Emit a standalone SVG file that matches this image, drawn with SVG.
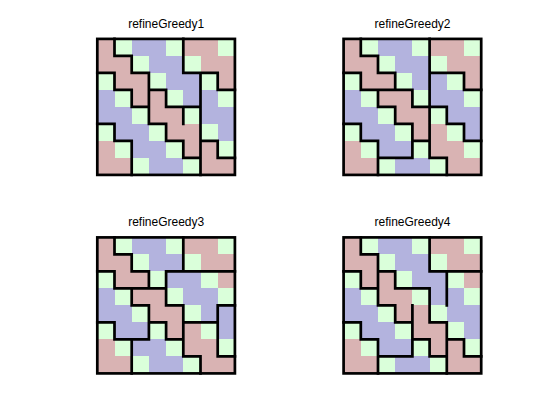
<svg xmlns="http://www.w3.org/2000/svg" xmlns:xlink="http://www.w3.org/1999/xlink" width="560" height="420" viewBox="0 0 560 420">
<style>
.t{font-family:"Liberation Sans",Arial,sans-serif;font-size:12px;fill:#000;text-anchor:middle}
.p{fill:#D9B3B3}.b{fill:#B3B3DE}.g{fill:#DAFFDA}
.e{fill:none;stroke:#000;stroke-width:0.158;stroke-linecap:square;stroke-linejoin:miter}
</style>
<defs>
<g id="cells" shape-rendering="crispEdges">
<rect class="g" x="0" y="0" width="8" height="8"/>
<rect class="p" x="0" y="0" width="1" height="1"/><rect class="b" x="2" y="0" width="2" height="1"/><rect class="p" x="5" y="0" width="2" height="1"/>
<rect class="p" x="0" y="1" width="2" height="1"/><rect class="b" x="3" y="1" width="2" height="1"/><rect class="p" x="6" y="1" width="2" height="1"/>
<rect class="p" x="1" y="2" width="2" height="1"/><rect class="b" x="4" y="2" width="2" height="1"/><rect class="p" x="7" y="2" width="1" height="1"/>
<rect class="b" x="0" y="3" width="1" height="1"/><rect class="p" x="2" y="3" width="2" height="1"/><rect class="b" x="5" y="3" width="2" height="1"/>
<rect class="b" x="0" y="4" width="2" height="1"/><rect class="p" x="3" y="4" width="2" height="1"/><rect class="b" x="6" y="4" width="2" height="1"/>
<rect class="b" x="1" y="5" width="2" height="1"/><rect class="p" x="4" y="5" width="2" height="1"/><rect class="b" x="7" y="5" width="1" height="1"/>
<rect class="p" x="0" y="6" width="1" height="1"/><rect class="b" x="2" y="6" width="2" height="1"/><rect class="p" x="5" y="6" width="2" height="1"/>
<rect class="p" x="0" y="7" width="2" height="1"/><rect class="b" x="3" y="7" width="2" height="1"/><rect class="p" x="6" y="7" width="2" height="1"/>
</g>
</defs>
<rect width="560" height="420" fill="#fff"/>
<g id="panel1">
<text class="t" x="166.2" y="27.5">refineGreedy1</text>
<g transform="translate(97.3,38.9) scale(17.2,17)">
<use xlink:href="#cells"/>
<path class="e" d="M1,0V1H2V2H3V4 M3,3H4V4H6 M5,0V2H6V4 M6,2H7V3H8 M0,2H1V3H2V4H3V5H4V6H5V7H6V8 M5,4V5 M6,4V8 M6,6H7V7H8 M0,5H1V6H2V8"/>
<rect class="e" x="0" y="0" width="8" height="8"/>
</g>
</g>
<g id="panel2">
<text class="t" x="412.5" y="27.5">refineGreedy2</text>
<g transform="translate(343.6,38.9) scale(17.2,17)">
<use xlink:href="#cells"/>
<path class="e" d="M1,0V1H2V2H3V3 M0,2H1V3H4V4H5 M5,0V7 M5,2H7V3H8 M2,3V4H3V5H4V6H5 M4,6V7H2 M2,6V8 M0,5H1V6H2 M5,7H6V8 M5,4H6V5H7V6H8"/>
<rect class="e" x="0" y="0" width="8" height="8"/>
</g>
</g>
<g id="panel3">
<text class="t" x="166.2" y="226">refineGreedy3</text>
<g transform="translate(97.3,237.4) scale(17.2,17)">
<use xlink:href="#cells"/>
<path class="e" d="M1,0V1H2V2H3V3 M0,2H1V3H4 M4,2V4H5 M5,0V2 M4,2H8 M2,3V4H3V5H4V6H5V7H6V8 M5,4V7 M5,5H7 M7,4V7H8 M7,4H8 M0,5H1V6H3 M3,5V6 M2,6V8"/>
<rect class="e" x="0" y="0" width="8" height="8"/>
</g>
</g>
<g id="panel4">
<text class="t" x="412.5" y="226">refineGreedy4</text>
<g transform="translate(343.6,237.4) scale(17.2,17)">
<use xlink:href="#cells"/>
<path class="e" d="M1,0V1H2V4 M0,2H1V3H2 M2,2H3V3H5V4 M5,0V2H8 M6,2V4 M2,4H3V5H4V4 M4,4V6H5V7H6V8 M5,4V5H6V7 M6,6H7V7H8 M4,6V7H2 M2,6V8 M0,5H1V6H2"/>
<rect class="e" x="0" y="0" width="8" height="8"/>
</g>
</g>
</svg>
